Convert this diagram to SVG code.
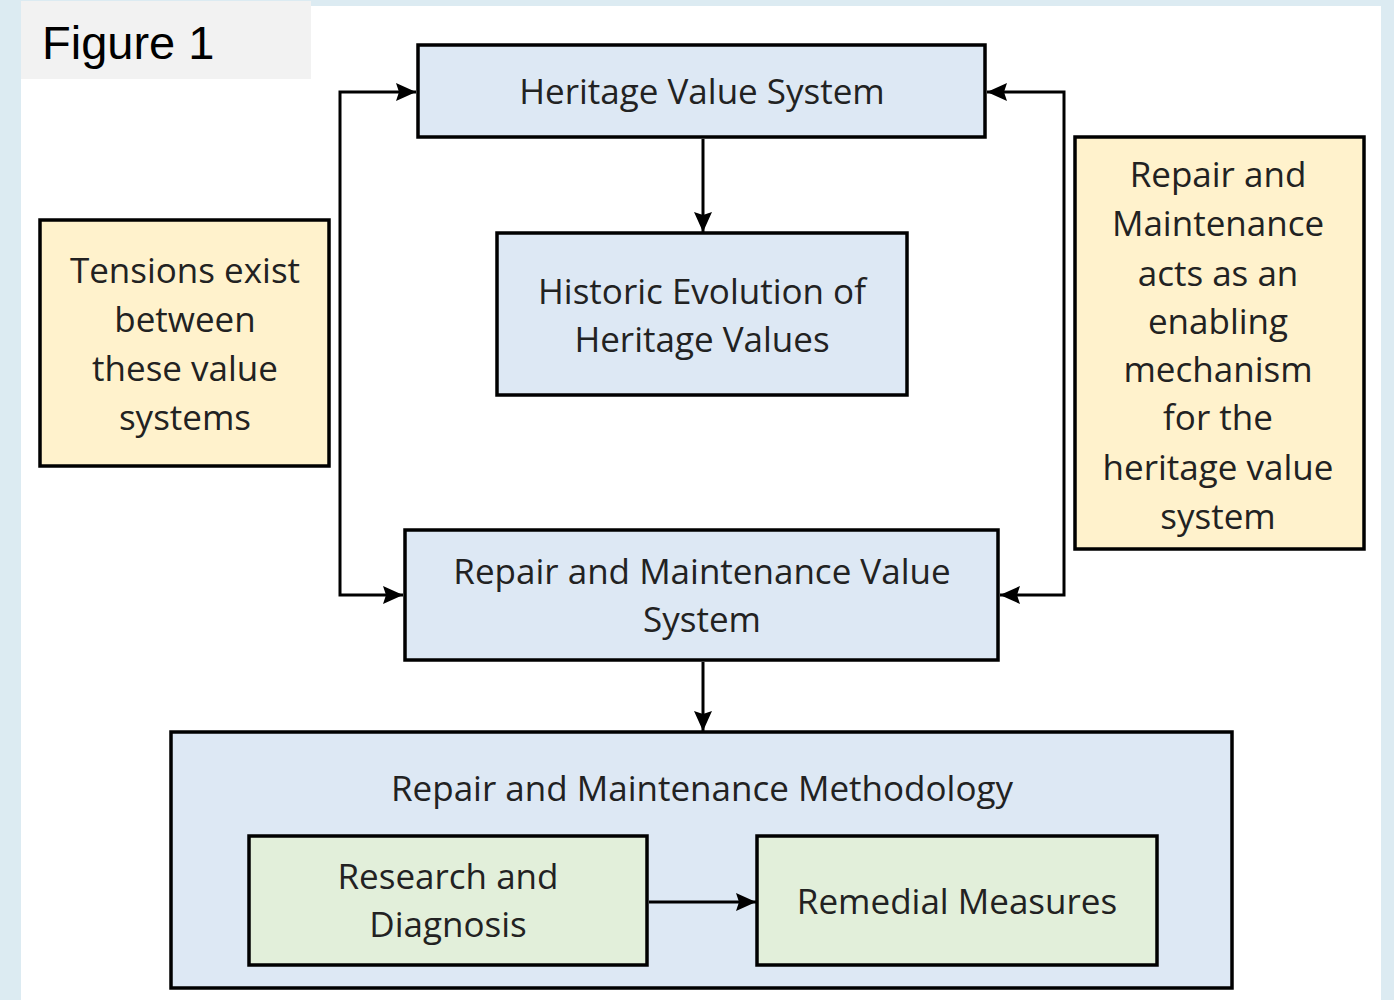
<svg xmlns="http://www.w3.org/2000/svg" width="1394" height="1000" viewBox="0 0 1394 1000">
<defs>
<marker id="ah" viewBox="0 0 10 10" refX="10" refY="5" markerWidth="20" markerHeight="18" markerUnits="userSpaceOnUse" orient="auto-start-reverse" preserveAspectRatio="none">
<path d="M0,0 L10,5 L0,10 L1.5,5 z" fill="#000"/>
</marker>
<style>
.bx{stroke:#000;stroke-width:3.5}
.blue{fill:#dde8f4}
.yel{fill:#fff2cc}
.grn{fill:#e2efda}
.t{font-family:"Open Sans",Lato,sans-serif;font-size:35px;fill:#222;text-anchor:middle}
.c{fill:none;stroke:#000;stroke-width:3}
</style>
</defs>
<rect x="0" y="0" width="1394" height="1000" fill="#dcebf2"/>
<rect x="21" y="6" width="1360" height="994" fill="#ffffff"/>
<g id="figlabel">
<rect x="21" y="1" width="290" height="78" fill="#f2f2f2"/>
<text x="42" y="59" style="font-family:'Liberation Sans',Arial,sans-serif;font-size:47px;fill:#000">Figure 1</text>
</g>
<g id="heritage">
<rect class="bx blue" x="418" y="45" width="567" height="92"/>
<text class="t" x="702" y="104">Heritage Value System</text>
</g>
<g id="historic">
<rect class="bx blue" x="497" y="233" width="410" height="162"/>
<text class="t" x="702" y="304">Historic Evolution of</text>
<text class="t" x="702" y="352">Heritage Values</text>
</g>
<g id="tensions">
<rect class="bx yel" x="40" y="220" width="289" height="246"/>
<text class="t" x="185" y="283">Tensions exist</text>
<text class="t" x="185" y="332">between</text>
<text class="t" x="185" y="381">these value</text>
<text class="t" x="185" y="430">systems</text>
</g>
<g id="enabling">
<rect class="bx yel" x="1075" y="137" width="289" height="412"/>
<text class="t" x="1218" y="187">Repair and</text>
<text class="t" x="1218" y="236">Maintenance</text>
<text class="t" x="1218" y="286">acts as an</text>
<text class="t" x="1218" y="334">enabling</text>
<text class="t" x="1218" y="382">mechanism</text>
<text class="t" x="1218" y="430">for the</text>
<text class="t" x="1218" y="480">heritage value</text>
<text class="t" x="1218" y="529">system</text>
</g>
<g id="rmvs">
<rect class="bx blue" x="405" y="530" width="593" height="130"/>
<text class="t" x="702" y="584">Repair and Maintenance Value</text>
<text class="t" x="702" y="632">System</text>
</g>
<g id="methodology">
<rect class="bx blue" x="171" y="732" width="1061" height="256"/>
<text class="t" x="702" y="801">Repair and Maintenance Methodology</text>
</g>
<g id="research">
<rect class="bx grn" x="249" y="836" width="398" height="129"/>
<text class="t" x="448" y="889">Research and</text>
<text class="t" x="448" y="937">Diagnosis</text>
</g>
<g id="remedial">
<rect class="bx grn" x="757" y="836" width="400" height="129"/>
<text class="t" x="957" y="914">Remedial Measures</text>
</g>
<g id="connectors">
<polyline class="c" points="416,92 340,92 340,595 403,595" marker-start="url(#ah)" marker-end="url(#ah)"/>
<polyline class="c" points="987,92 1064,92 1064,595 1000,595" marker-start="url(#ah)" marker-end="url(#ah)"/>
<line class="c" x1="703" y1="139" x2="703" y2="232" marker-end="url(#ah)"/>
<line class="c" x1="703" y1="662" x2="703" y2="731" marker-end="url(#ah)"/>
<line class="c" x1="649" y1="902" x2="756" y2="902" marker-end="url(#ah)"/>
</g>
</svg>
